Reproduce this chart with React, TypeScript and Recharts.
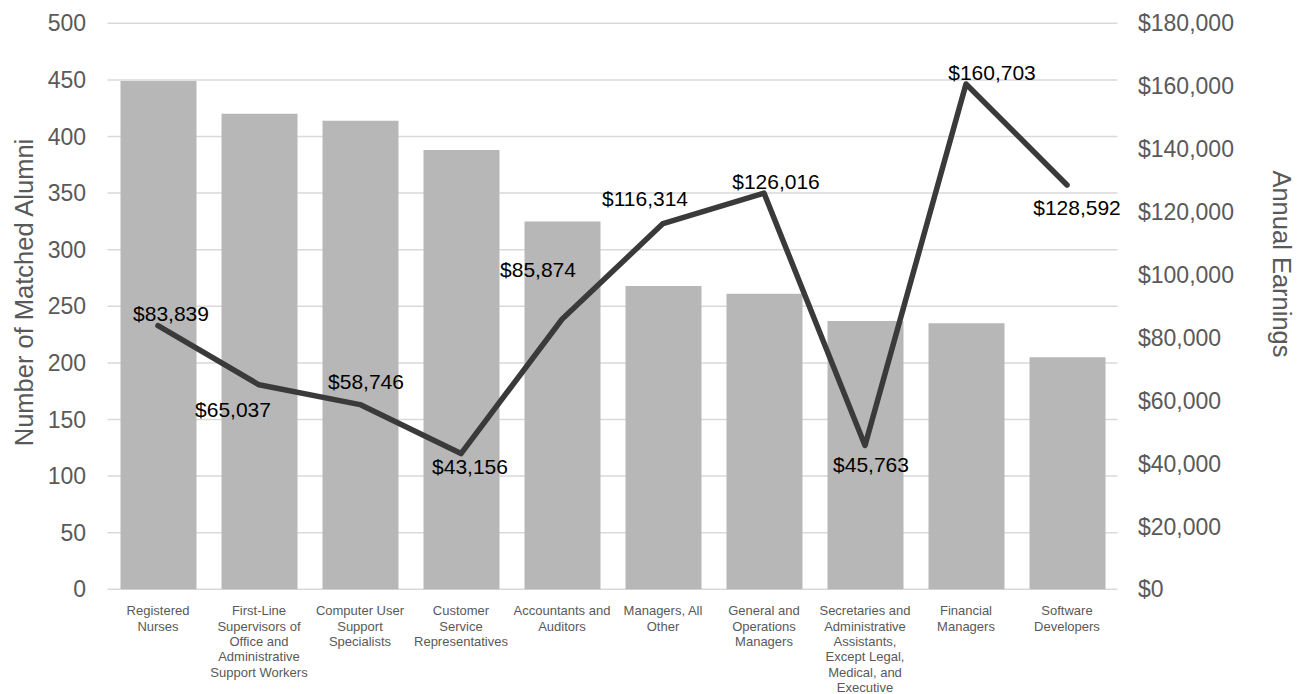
import { Bar, ComposedChart, Line, XAxis, YAxis, CartesianGrid, LabelList } from "recharts"

const categories = [
  "Registered Nurses",
  "First-Line Supervisors of Office and Administrative Support Workers",
  "Computer User Support Specialists",
  "Customer Service Representatives",
  "Accountants and Auditors",
  "Managers, All Other",
  "General and Operations Managers",
  "Secretaries and Administrative Assistants, Except Legal, Medical, and Executive",
  "Financial Managers",
  "Software Developers",
]

// category labels as they wrap in the original
const tickLines = [
  ["Registered", "Nurses"],
  ["First-Line", "Supervisors of", "Office and", "Administrative", "Support Workers"],
  ["Computer User", "Support", "Specialists"],
  ["Customer", "Service", "Representatives"],
  ["Accountants and", "Auditors"],
  ["Managers, All", "Other"],
  ["General and", "Operations", "Managers"],
  ["Secretaries and", "Administrative", "Assistants,", "Except Legal,", "Medical, and", "Executive"],
  ["Financial", "Managers"],
  ["Software", "Developers"],
]

const alumni = [449, 420, 414, 388, 325, 268, 261, 237, 235, 205]
const earnings = [83839, 65037, 58746, 43156, 85874, 116314, 126016, 45763, 160703, 128592]

const leftTicks = [0, 50, 100, 150, 200, 250, 300, 350, 400, 450, 500]
const rightTicks = [0, 20000, 40000, 60000, 80000, 100000, 120000, 140000, 160000, 180000]

// where each earnings label sits relative to its point (text centre)
const labelOffsets = [
  [13, -12],
  [-26, 25],
  [6, -23],
  [9, 13],
  [-24, -50],
  [-18, -25],
  [12, -11],
  [6, 19],
  [26, -11],
  [10, 23],
]

const data = categories.map((name, i) => ({
  name,
  alumni: alumni[i],
  earnings: earnings[i],
}))

const money = (v: number) => "$" + v.toLocaleString("en-US")

const GREY_TEXT = "#595959"

function CategoryTick(props: any) {
  const { x, y, index } = props
  const lines = tickLines[index] || []
  return (
    <text x={x} y={y} textAnchor="middle" fill={GREY_TEXT} fontSize={13}>
      {lines.map((l, i) => (
        <tspan key={i} x={x} dy={i === 0 ? 18 : 15.3}>
          {l}
        </tspan>
      ))}
    </text>
  )
}

function EarningsLabel(props: any) {
  const { x, y, value, index } = props
  const [dx, dy] = labelOffsets[index] || [0, -12]
  return (
    <text x={x + dx} y={y + dy + 7.4} textAnchor="middle" fill="#000" fontSize={21}>
      {money(value)}
    </text>
  )
}

export default function App() {
  return (
    <div style={{ fontFamily: "Arial, 'Liberation Sans', sans-serif", width: 1314, height: 694 }}>
      <style>{"body{margin:0;overflow:hidden}"}</style>
      <ComposedChart
        width={1314}
        height={694}
        data={data}
        margin={{ top: 23.3, right: 0, bottom: 0, left: 0 }}
        barSize={76}
      >
        <CartesianGrid yAxisId="left" vertical={false} stroke="#d9d9d9" strokeWidth={1.5} />
        <XAxis
          dataKey="name"
          interval={0}
          tickLine={false}
          axisLine={false}
          height={104.7}
          tick={<CategoryTick />}
        />
        <YAxis
          yAxisId="left"
          orientation="left"
          width={107.5}
          domain={[0, 500]}
          ticks={leftTicks}
          tickLine={false}
          axisLine={false}
          tickSize={0}
          tickMargin={21.5}
          tick={{ fill: GREY_TEXT, fontSize: 23 }}
        />
        <YAxis
          yAxisId="right"
          orientation="right"
          width={196.5}
          domain={[0, 180000]}
          ticks={rightTicks}
          tickLine={false}
          axisLine={false}
          tickSize={0}
          tickMargin={20.5}
          tickFormatter={money}
          tick={{ fill: GREY_TEXT, fontSize: 23 }}
        />
        <Bar yAxisId="left" dataKey="alumni" fill="#b7b7b7" isAnimationActive={false} />
        <Line
          yAxisId="right"
          dataKey="earnings"
          type="linear"
          stroke="#3a3a3a"
          strokeWidth={5.5}
          strokeLinecap="round"
          strokeLinejoin="round"
          dot={false}
          activeDot={false}
          isAnimationActive={false}
        >
          <LabelList dataKey="earnings" content={<EarningsLabel />} />
        </Line>
        <text
          x={33}
          y={292.5}
          transform="rotate(-90 33 292.5)"
          textAnchor="middle"
          fill={GREY_TEXT}
          fontSize={25.5}
        >
          Number of Matched Alumni
        </text>
        <text
          x={1273}
          y={264}
          transform="rotate(90 1273 264)"
          textAnchor="middle"
          fill={GREY_TEXT}
          fontSize={25.5}
        >
          Annual Earnings
        </text>
      </ComposedChart>
    </div>
  )
}
